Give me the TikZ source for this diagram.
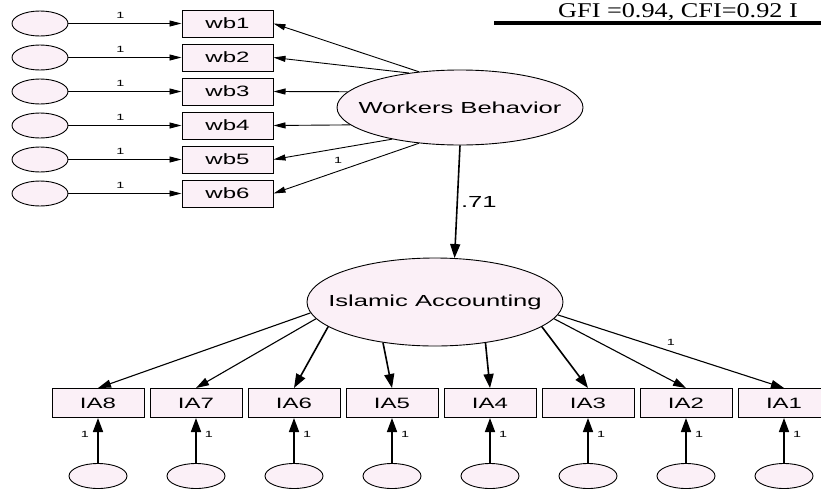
\documentclass[tikz,border=0pt]{standalone}
\usepackage{fontspec}
\usetikzlibrary{shapes.geometric,arrows.meta}
\newfontfamily\amos[FakeStretch=1.6]{Liberation Sans}
\newfontfamily\timesf[FakeStretch=1.25]{Liberation Serif}
\definecolor{pinkfill}{RGB}{251,240,247}
\begin{document}
\begin{tikzpicture}[x=1pt,y=-1pt,
  smallell/.style={ellipse,draw,fill=pinkfill,minimum width=56pt,minimum height=25pt,inner sep=0pt,line width=0.9pt},
  bigell/.style={ellipse,draw,fill=pinkfill,inner sep=0pt,line width=0.9pt,font=\amos\fontsize{16}{16}\selectfont},
  obsbox/.style={rectangle,draw,fill=pinkfill,minimum width=91pt,minimum height=27pt,inner sep=0pt,line width=1pt,font=\amos\fontsize{15}{15}\selectfont},
  thinarr/.style={-{Triangle[length=12pt,width=6pt]},line width=0.9pt},
  midarr/.style={-{Triangle[length=13pt,width=8pt]},line width=1.1pt},
  thickarr/.style={-{Triangle[length=14pt,width=10pt]},line width=1.6pt},
  one/.style={font=\amos\fontsize{9}{9}\selectfont,inner sep=0pt},
  lbl/.style={font=\amos\fontsize{16}{16}\selectfont,inner sep=0pt}]
\useasboundingbox (0,0) rectangle (821,493);
\fill[white] (0,0) rectangle (821,493);

% header text
\node[font=\timesf\fontsize{21}{21}\selectfont,anchor=base west,inner sep=0pt] (hdr) at (558,17) {GFI =0.94, CFI=0.92 I};
\draw[line width=4pt] (494,23) -- (821,23);

% latent variables
\node[bigell,minimum width=246pt,minimum height=75pt] (wb) at (460,107.5) {\makebox[0pt]{Workers Behavior}};
\node[bigell,minimum width=256pt,minimum height=88pt] (ia) at (435,302) {\makebox[0pt]{Islamic Accounting}};

% Workers Behavior indicators
\foreach \i/\y in {1/23.5,2/57.5,3/91.5,4/125.5,5/159.5,6/193.5} {
  \node[smallell] (e\i) at (40,\y) {};
  \node[obsbox] (wb\i) at (227.5,\y) {wb\i};
  \draw[thinarr] (e\i) -- (wb\i) node[one,pos=0.46,yshift=8pt] {1};
}
\draw[thinarr] (wb.139) -- (wb1.east);
\draw[thinarr] (wb.146) -- (wb2.east);
\draw[thinarr] (wb.172) -- (wb3.east);
\draw[thinarr] (wb.189) -- (wb4.east);
\draw[thinarr] (wb.205) -- (wb5.east);
\draw[thinarr] (wb.221) -- (wb6.east);
\node[one] (l6) at (338,160) {1};

% structural path
\draw[thickarr] (wb.south) -- (ia.66) node[lbl,pos=0.5,anchor=west,xshift=3pt] {.71};

% Islamic Accounting indicators
\foreach \n/\x in {8/98,7/196,6/294,5/392,4/490,3/588,2/686,1/784} {
  \node[obsbox,minimum width=92pt,minimum height=29pt] (ia\n) at (\x,403) {IA\n};
  \node[smallell,minimum width=58pt,minimum height=25pt] (u\n) at (\x,476) {};
  \draw[thickarr] (u\n) -- (ia\n);
}
\foreach \n/\x in {7/196,6/294,5/392,4/490,3/588,2/686,1/784} {
  \node[one] at (\x+13,434) {1};
}
\node[one] at (85,434) {1};

\draw[midarr] (ia.185) -- (ia8.north);
\draw[midarr] (ia.188) -- (ia7.north);
\draw[thickarr] (ia.193) -- (ia6.north);
\draw[thickarr] (ia.218) -- (ia5.north);
\draw[thickarr] (ia.321) -- (ia4.north);
\draw[thickarr] (ia.347) -- (ia3.north);
\draw[midarr] (ia.352) -- (ia2.north);
\draw[midarr] (ia.354) -- (ia1.north) node[one,pos=0.5,yshift=9pt] {1};
\end{tikzpicture}
\end{document}
